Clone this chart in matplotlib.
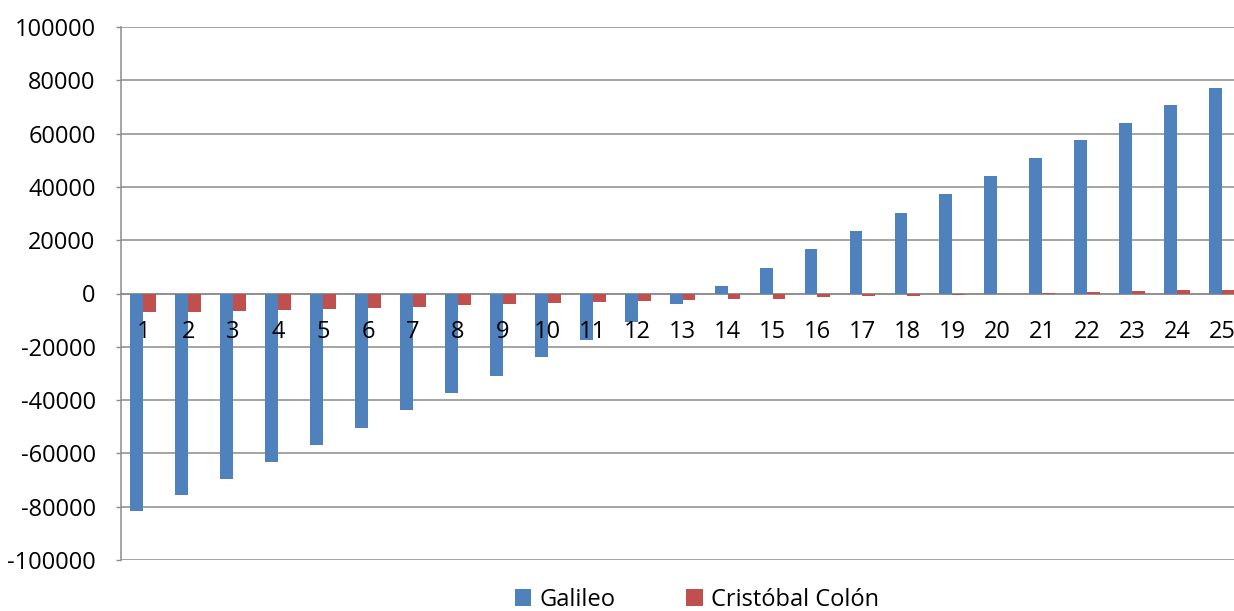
import matplotlib
matplotlib.use("Agg")
import matplotlib.pyplot as plt
from matplotlib.transforms import offset_copy
import numpy as np

categories = [str(i) for i in range(1, 26)]
galileo = [-81800, -75600, -69700, -63300, -57000, -50400, -43900, -37500,
           -30800, -24000, -17400, -10600, -3800, 3000, 9600, 16600, 23400,
           30250, 37250, 44100, 50750, 57500, 64100, 70600, 77100]
colon = [-7050, -6900, -6550, -6150, -5800, -5300, -4900, -4500, -4000,
         -3650, -3300, -2900, -2500, -2150, -1900, -1500, -1100, -900, -500,
         -100, 200, 500, 850, 1250, 1400]
y_ticks = list(range(-100000, 100001, 20000))

BLUE = "#4F81BD"
RED = "#C0504D"
GRID = "#8C8C8C"
FS = 17

plt.rcParams["font.family"] = ["Open Sans", "DejaVu Sans"]

fig = plt.figure(figsize=(12.34, 6.11), dpi=100)
ax = fig.add_axes([120.8 / 1234, 1 - 560 / 611, (1244.5 - 120.8) / 1234, (560 - 27) / 611])

x = np.arange(len(categories))
w = 1 / 3.5
ax.bar(x - w / 2, galileo, width=w, color=BLUE, label="Galileo", zorder=3)
ax.bar(x + w / 2, colon, width=w, color=RED, label="Cristóbal Colón", zorder=3)

ax.set_xlim(-0.5, len(categories) - 0.5)
ax.set_ylim(-100000, 100000)
ax.set_yticks(y_ticks)
ax.set_yticklabels([str(v) for v in y_ticks], fontsize=FS, color="#000000")
ax.yaxis.grid(True, color=GRID, linewidth=1.1, zorder=0)
ax.tick_params(axis="y", length=3.6, width=1, color=GRID, pad=14.5)

# category axis crosses at zero; its labels sit just below, over the bars
ax.spines["bottom"].set_position(("data", 0))
ax.spines["bottom"].set_color(GRID)
ax.spines["bottom"].set_linewidth(1.1)
ax.set_xticks([])
label_tr = offset_copy(ax.transData, fig=fig, x=0, y=-27, units="dots")
for xi, name in zip(x, categories):
    ax.text(xi, 0, name, transform=label_tr, ha="center", va="top",
            fontsize=FS, color="#000000", zorder=5, clip_on=False)
ax.spines["left"].set_color(GRID)
ax.spines["left"].set_linewidth(1.1)
ax.spines["top"].set_visible(False)
ax.spines["right"].set_visible(False)

fig.legend(loc="center", bbox_to_anchor=(697 / 1234, 1 - 600 / 611), ncol=2,
           frameon=False, fontsize=FS, handlelength=0.7, handleheight=0.7,
           handletextpad=0.35, columnspacing=3.0, borderaxespad=0)

fig.savefig("out.png", dpi=100)
